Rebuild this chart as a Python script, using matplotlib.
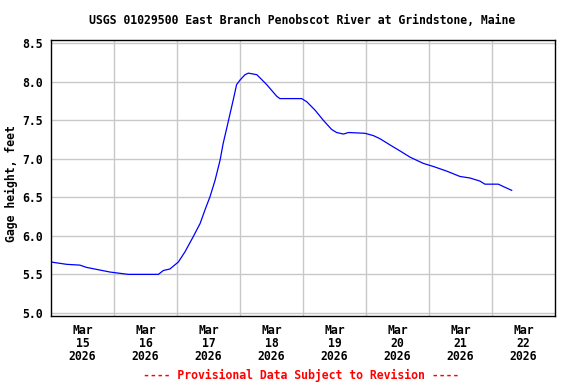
"""
Recreate the USGS gage height hydrograph for East Branch Penobscot River.

Values read off the provisional real-time chart, Mar 15-22 2026.
Writes out.png.
"""

import pandas as pd
import matplotlib
matplotlib.use("Agg")
import matplotlib.pyplot as plt

TITLE = "USGS 01029500 East Branch Penobscot River at Grindstone, Maine"
START = pd.Timestamp("2026-03-15 00:00")
END = pd.Timestamp("2026-03-23 00:00")

# hours since Mar 15 00:00 and gage height (ft)
hours = [0.0, 6.0, 11.0, 13.6, 22.5, 29.4, 40.9, 42.8, 45.3, 48.5,
         51.0, 54.2, 56.8, 58.7, 60.6, 62.5, 64.4, 65.6, 66.9, 69.4,
         70.7, 72.0, 73.9, 75.2, 78.4, 79.6, 82.2, 86.0, 87.2, 95.5,
         97.4, 100.6, 103.7, 106.9, 108.8, 111.4, 113.3, 119.6, 122.8, 125.3,
         129.1, 133.0, 136.8, 141.8, 145.6, 150.7, 155.8, 159.6, 163.4, 165.3,
         170.4, 172.9, 175.5]
gage_ft = [5.66, 5.63, 5.62, 5.59, 5.53, 5.50, 5.50, 5.55, 5.57, 5.66,
           5.79, 5.99, 6.16, 6.34, 6.51, 6.72, 6.98, 7.20, 7.39, 7.76,
           7.96, 8.02, 8.09, 8.11, 8.09, 8.05, 7.96, 7.81, 7.78, 7.78,
           7.74, 7.63, 7.50, 7.38, 7.34, 7.32, 7.34, 7.33, 7.30, 7.26,
           7.18, 7.10, 7.02, 6.94, 6.90, 6.84, 6.77, 6.75, 6.71, 6.67,
           6.67, 6.63, 6.59]

y_ticks = [5.0, 5.5, 6.0, 6.5, 7.0, 7.5, 8.0, 8.5]
day_labels = ["Mar\n15\n2026", "Mar\n16\n2026", "Mar\n17\n2026", "Mar\n18\n2026",
              "Mar\n19\n2026", "Mar\n20\n2026", "Mar\n21\n2026", "Mar\n22\n2026"]

FONT = {"family": "DejaVu Sans Mono", "weight": "bold", "size": 8.3}


def main():
    times = [START + pd.Timedelta(hours=h) for h in hours]

    fig = plt.figure(figsize=(5.76, 3.84), dpi=100)
    ax = fig.add_axes([51 / 576, 1 - 316 / 384, 504 / 576, 276 / 384])

    ax.plot(times, gage_ft, color="#0000ff", linewidth=0.9)

    ax.set_xlim(START, END)
    ax.set_ylim(4.96, 8.54)

    # gridlines at midnight, date labels at noon
    midnights = pd.date_range(START, END, freq="D")
    noons = midnights[:-1] + pd.Timedelta(hours=12)
    ax.set_xticks(midnights[1:-1])
    ax.set_xticklabels([])
    ax.set_xticks(noons, minor=True)
    ax.set_xticklabels(day_labels, minor=True, fontdict=FONT, linespacing=1.0)
    ax.tick_params(axis="x", which="both", length=0, pad=6)

    ax.set_yticks(y_ticks)
    ax.set_yticklabels([f"{v:.1f}" for v in y_ticks], fontdict=FONT)
    ax.tick_params(axis="y", length=0, pad=5.5)

    ax.grid(True, which="major", color="#c8c8c8", linewidth=1.0)
    ax.set_axisbelow(True)
    for spine in ax.spines.values():
        spine.set_color("black")
        spine.set_linewidth(1.0)

    ax.set_ylabel("Gage height, feet", fontdict=FONT)
    ax.yaxis.set_label_coords(-33 / 504, 0.48)
    fig.text(302 / 576, 1 - 20 / 384, TITLE, ha="center", va="center", fontdict=FONT)
    fig.text(301 / 576, 1 - 375 / 384, "---- Provisional Data Subject to Revision ----",
             ha="center", va="center", color="red", fontdict=FONT)

    fig.savefig("out.png", dpi=100)
    plt.close(fig)


if __name__ == "__main__":
    main()
